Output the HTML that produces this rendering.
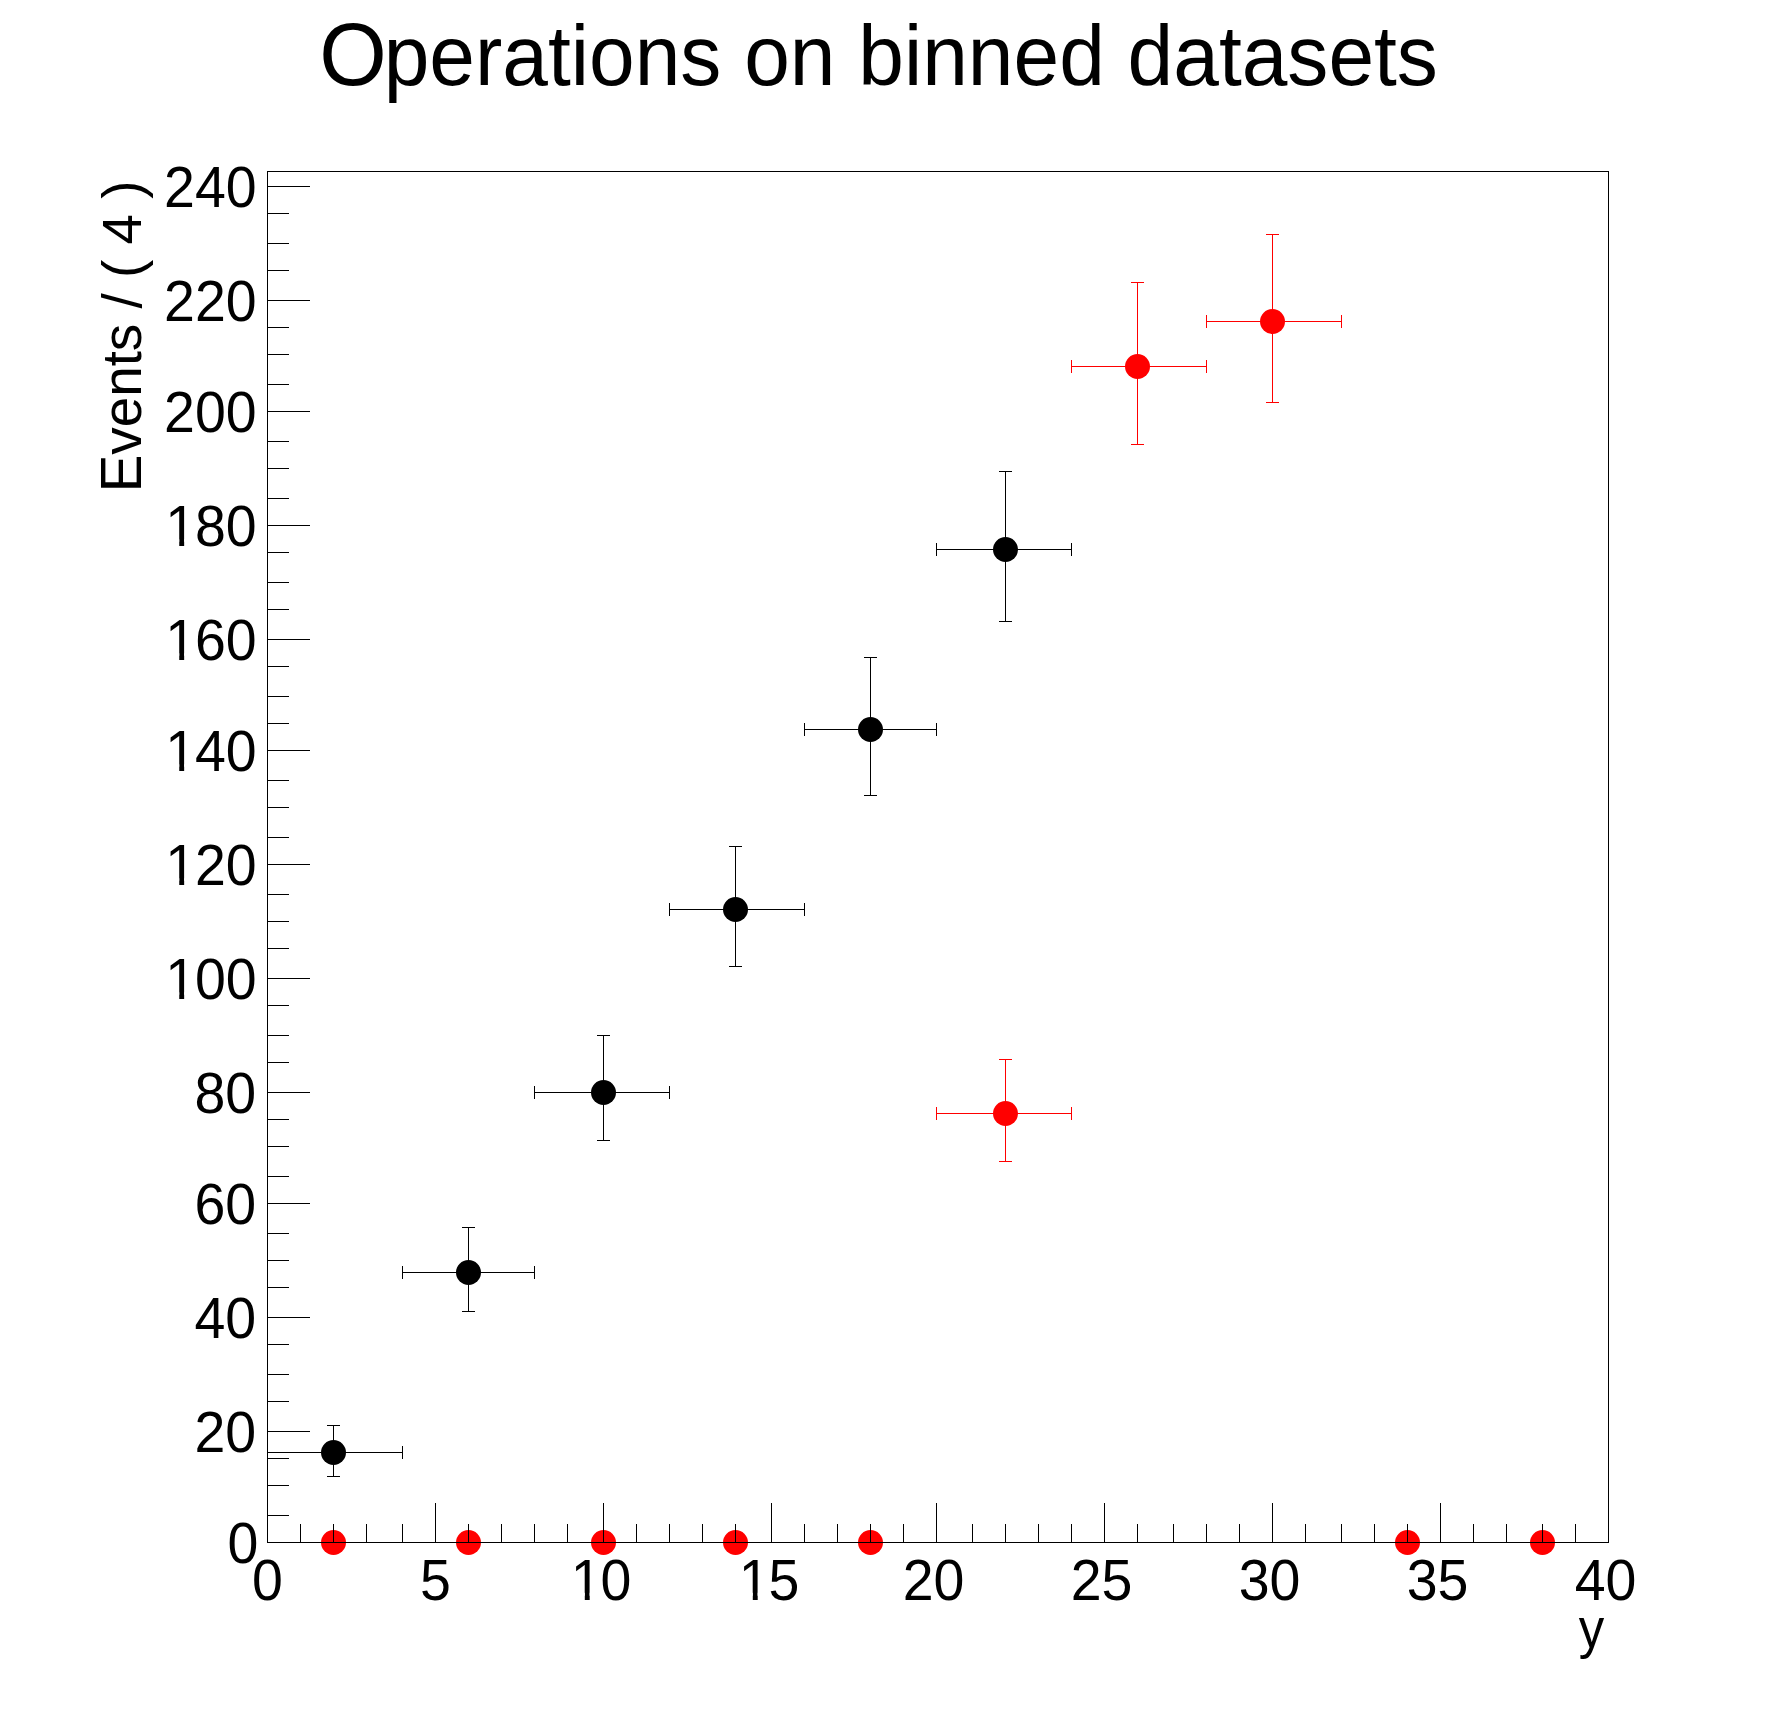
<!DOCTYPE html>
<html lang="en"><head><meta charset="utf-8"><title>Operations on binned datasets</title>
<style>
html,body{margin:0;padding:0;background:#fff;}
body{width:1788px;height:1716px;overflow:hidden;}
svg{display:block;}
text{font-family:"Liberation Sans",sans-serif;fill:#000;}
</style></head><body>
<svg width="1788" height="1716" viewBox="0 0 1788 1716">
<rect x="0" y="0" width="1788" height="1716" fill="#fff"/>
<g shape-rendering="crispEdges">
<rect x="333" y="1425" width="1" height="52" fill="#000"/>
<rect x="327" y="1425" width="13" height="1" fill="#000"/>
<rect x="327" y="1476" width="13" height="1" fill="#000"/>
<rect x="267" y="1452" width="136" height="1" fill="#000"/>
<rect x="267" y="1446" width="1" height="13" fill="#000"/>
<rect x="402" y="1446" width="1" height="13" fill="#000"/>
<rect x="468" y="1227" width="1" height="85" fill="#000"/>
<rect x="462" y="1227" width="13" height="1" fill="#000"/>
<rect x="462" y="1311" width="13" height="1" fill="#000"/>
<rect x="402" y="1272" width="133" height="1" fill="#000"/>
<rect x="402" y="1266" width="1" height="13" fill="#000"/>
<rect x="534" y="1266" width="1" height="13" fill="#000"/>
<rect x="603" y="1035" width="1" height="106" fill="#000"/>
<rect x="597" y="1035" width="13" height="1" fill="#000"/>
<rect x="597" y="1140" width="13" height="1" fill="#000"/>
<rect x="534" y="1092" width="136" height="1" fill="#000"/>
<rect x="534" y="1086" width="1" height="13" fill="#000"/>
<rect x="669" y="1086" width="1" height="13" fill="#000"/>
<rect x="735" y="846" width="1" height="121" fill="#000"/>
<rect x="729" y="846" width="13" height="1" fill="#000"/>
<rect x="729" y="966" width="13" height="1" fill="#000"/>
<rect x="669" y="909" width="136" height="1" fill="#000"/>
<rect x="669" y="903" width="1" height="13" fill="#000"/>
<rect x="804" y="903" width="1" height="13" fill="#000"/>
<rect x="870" y="657" width="1" height="139" fill="#000"/>
<rect x="864" y="657" width="13" height="1" fill="#000"/>
<rect x="864" y="795" width="13" height="1" fill="#000"/>
<rect x="804" y="729" width="133" height="1" fill="#000"/>
<rect x="804" y="723" width="1" height="13" fill="#000"/>
<rect x="936" y="723" width="1" height="13" fill="#000"/>
<rect x="1005" y="471" width="1" height="151" fill="#000"/>
<rect x="999" y="471" width="13" height="1" fill="#000"/>
<rect x="999" y="621" width="13" height="1" fill="#000"/>
<rect x="936" y="549" width="136" height="1" fill="#000"/>
<rect x="936" y="543" width="1" height="13" fill="#000"/>
<rect x="1071" y="543" width="1" height="13" fill="#000"/>
<rect x="1005" y="1059" width="1" height="103" fill="#f00"/>
<rect x="999" y="1059" width="13" height="1" fill="#f00"/>
<rect x="999" y="1161" width="13" height="1" fill="#f00"/>
<rect x="936" y="1113" width="136" height="1" fill="#f00"/>
<rect x="936" y="1107" width="1" height="13" fill="#f00"/>
<rect x="1071" y="1107" width="1" height="13" fill="#f00"/>
<rect x="1137" y="282" width="1" height="163" fill="#f00"/>
<rect x="1131" y="282" width="13" height="1" fill="#f00"/>
<rect x="1131" y="444" width="13" height="1" fill="#f00"/>
<rect x="1071" y="366" width="136" height="1" fill="#f00"/>
<rect x="1071" y="360" width="1" height="13" fill="#f00"/>
<rect x="1206" y="360" width="1" height="13" fill="#f00"/>
<rect x="1272" y="234" width="1" height="169" fill="#f00"/>
<rect x="1266" y="234" width="13" height="1" fill="#f00"/>
<rect x="1266" y="402" width="13" height="1" fill="#f00"/>
<rect x="1206" y="321" width="136" height="1" fill="#f00"/>
<rect x="1206" y="315" width="1" height="13" fill="#f00"/>
<rect x="1341" y="315" width="1" height="13" fill="#f00"/>
</g>
<g>
<circle cx="333.5" cy="1452.5" r="12.5" fill="#000"/>
<circle cx="468.5" cy="1272.5" r="12.5" fill="#000"/>
<circle cx="603.5" cy="1092.5" r="12.5" fill="#000"/>
<circle cx="735.5" cy="909.5" r="12.5" fill="#000"/>
<circle cx="870.5" cy="729.5" r="12.5" fill="#000"/>
<circle cx="1005.5" cy="549.5" r="12.5" fill="#000"/>
<circle cx="333.5" cy="1542.5" r="12.5" fill="#f00"/>
<circle cx="468.5" cy="1542.5" r="12.5" fill="#f00"/>
<circle cx="603.5" cy="1542.5" r="12.5" fill="#f00"/>
<circle cx="735.5" cy="1542.5" r="12.5" fill="#f00"/>
<circle cx="870.5" cy="1542.5" r="12.5" fill="#f00"/>
<circle cx="1005.5" cy="1113.5" r="12.5" fill="#f00"/>
<circle cx="1137.5" cy="366.5" r="12.5" fill="#f00"/>
<circle cx="1272.5" cy="321.5" r="12.5" fill="#f00"/>
<circle cx="1407.5" cy="1542.5" r="12.5" fill="#f00"/>
<circle cx="1542.5" cy="1542.5" r="12.5" fill="#f00"/>
</g>
<g shape-rendering="crispEdges">
<rect x="267" y="171" width="1342" height="1" fill="#000"/>
<rect x="267" y="1542" width="1342" height="1" fill="#000"/>
<rect x="267" y="171" width="1" height="1372" fill="#000"/>
<rect x="1608" y="171" width="1" height="1372" fill="#000"/>
<rect x="267" y="1503" width="1" height="40" fill="#000"/>
<rect x="300" y="1524" width="1" height="19" fill="#000"/>
<rect x="333" y="1524" width="1" height="19" fill="#000"/>
<rect x="366" y="1524" width="1" height="19" fill="#000"/>
<rect x="402" y="1524" width="1" height="19" fill="#000"/>
<rect x="435" y="1503" width="1" height="40" fill="#000"/>
<rect x="468" y="1524" width="1" height="19" fill="#000"/>
<rect x="501" y="1524" width="1" height="19" fill="#000"/>
<rect x="534" y="1524" width="1" height="19" fill="#000"/>
<rect x="567" y="1524" width="1" height="19" fill="#000"/>
<rect x="603" y="1503" width="1" height="40" fill="#000"/>
<rect x="636" y="1524" width="1" height="19" fill="#000"/>
<rect x="669" y="1524" width="1" height="19" fill="#000"/>
<rect x="702" y="1524" width="1" height="19" fill="#000"/>
<rect x="735" y="1524" width="1" height="19" fill="#000"/>
<rect x="771" y="1503" width="1" height="40" fill="#000"/>
<rect x="804" y="1524" width="1" height="19" fill="#000"/>
<rect x="837" y="1524" width="1" height="19" fill="#000"/>
<rect x="870" y="1524" width="1" height="19" fill="#000"/>
<rect x="903" y="1524" width="1" height="19" fill="#000"/>
<rect x="936" y="1503" width="1" height="40" fill="#000"/>
<rect x="972" y="1524" width="1" height="19" fill="#000"/>
<rect x="1005" y="1524" width="1" height="19" fill="#000"/>
<rect x="1038" y="1524" width="1" height="19" fill="#000"/>
<rect x="1071" y="1524" width="1" height="19" fill="#000"/>
<rect x="1104" y="1503" width="1" height="40" fill="#000"/>
<rect x="1137" y="1524" width="1" height="19" fill="#000"/>
<rect x="1173" y="1524" width="1" height="19" fill="#000"/>
<rect x="1206" y="1524" width="1" height="19" fill="#000"/>
<rect x="1239" y="1524" width="1" height="19" fill="#000"/>
<rect x="1272" y="1503" width="1" height="40" fill="#000"/>
<rect x="1305" y="1524" width="1" height="19" fill="#000"/>
<rect x="1341" y="1524" width="1" height="19" fill="#000"/>
<rect x="1374" y="1524" width="1" height="19" fill="#000"/>
<rect x="1407" y="1524" width="1" height="19" fill="#000"/>
<rect x="1440" y="1503" width="1" height="40" fill="#000"/>
<rect x="1473" y="1524" width="1" height="19" fill="#000"/>
<rect x="1506" y="1524" width="1" height="19" fill="#000"/>
<rect x="1542" y="1524" width="1" height="19" fill="#000"/>
<rect x="1575" y="1524" width="1" height="19" fill="#000"/>
<rect x="1608" y="1503" width="1" height="40" fill="#000"/>
<rect x="267" y="1542" width="43" height="1" fill="#000"/>
<rect x="267" y="1515" width="22" height="1" fill="#000"/>
<rect x="267" y="1485" width="22" height="1" fill="#000"/>
<rect x="267" y="1458" width="22" height="1" fill="#000"/>
<rect x="267" y="1431" width="43" height="1" fill="#000"/>
<rect x="267" y="1401" width="22" height="1" fill="#000"/>
<rect x="267" y="1374" width="22" height="1" fill="#000"/>
<rect x="267" y="1344" width="22" height="1" fill="#000"/>
<rect x="267" y="1317" width="43" height="1" fill="#000"/>
<rect x="267" y="1287" width="22" height="1" fill="#000"/>
<rect x="267" y="1260" width="22" height="1" fill="#000"/>
<rect x="267" y="1233" width="22" height="1" fill="#000"/>
<rect x="267" y="1203" width="43" height="1" fill="#000"/>
<rect x="267" y="1176" width="22" height="1" fill="#000"/>
<rect x="267" y="1146" width="22" height="1" fill="#000"/>
<rect x="267" y="1119" width="22" height="1" fill="#000"/>
<rect x="267" y="1092" width="43" height="1" fill="#000"/>
<rect x="267" y="1062" width="22" height="1" fill="#000"/>
<rect x="267" y="1035" width="22" height="1" fill="#000"/>
<rect x="267" y="1005" width="22" height="1" fill="#000"/>
<rect x="267" y="978" width="43" height="1" fill="#000"/>
<rect x="267" y="948" width="22" height="1" fill="#000"/>
<rect x="267" y="921" width="22" height="1" fill="#000"/>
<rect x="267" y="894" width="22" height="1" fill="#000"/>
<rect x="267" y="864" width="43" height="1" fill="#000"/>
<rect x="267" y="837" width="22" height="1" fill="#000"/>
<rect x="267" y="807" width="22" height="1" fill="#000"/>
<rect x="267" y="780" width="22" height="1" fill="#000"/>
<rect x="267" y="750" width="43" height="1" fill="#000"/>
<rect x="267" y="723" width="22" height="1" fill="#000"/>
<rect x="267" y="696" width="22" height="1" fill="#000"/>
<rect x="267" y="666" width="22" height="1" fill="#000"/>
<rect x="267" y="639" width="43" height="1" fill="#000"/>
<rect x="267" y="609" width="22" height="1" fill="#000"/>
<rect x="267" y="582" width="22" height="1" fill="#000"/>
<rect x="267" y="552" width="22" height="1" fill="#000"/>
<rect x="267" y="525" width="43" height="1" fill="#000"/>
<rect x="267" y="498" width="22" height="1" fill="#000"/>
<rect x="267" y="468" width="22" height="1" fill="#000"/>
<rect x="267" y="441" width="22" height="1" fill="#000"/>
<rect x="267" y="411" width="43" height="1" fill="#000"/>
<rect x="267" y="384" width="22" height="1" fill="#000"/>
<rect x="267" y="354" width="22" height="1" fill="#000"/>
<rect x="267" y="327" width="22" height="1" fill="#000"/>
<rect x="267" y="300" width="43" height="1" fill="#000"/>
<rect x="267" y="270" width="22" height="1" fill="#000"/>
<rect x="267" y="243" width="22" height="1" fill="#000"/>
<rect x="267" y="213" width="22" height="1" fill="#000"/>
<rect x="267" y="186" width="43" height="1" fill="#000"/>
</g>
<g>
<text transform="translate(252.07,1599.50) scale(0.982,1)" text-anchor="start" font-size="56.5">0</text>
<text transform="translate(420.07,1599.50) scale(0.982,1)" text-anchor="start" font-size="56.5">5</text>
<g transform="translate(570.84,1599.50) scale(0.982,1)"><text text-anchor="start" font-size="56.5"><tspan>1</tspan><tspan dx="-1.22">0</tspan></text><rect x="2.80" y="-6.72" width="11.40" height="8.22" fill="#fff"/><rect x="19.20" y="-6.72" width="10.96" height="8.22" fill="#fff"/></g>
<g transform="translate(738.84,1599.50) scale(0.982,1)"><text text-anchor="start" font-size="56.5"><tspan>1</tspan><tspan dx="-1.22">5</tspan></text><rect x="2.80" y="-6.72" width="11.40" height="8.22" fill="#fff"/><rect x="19.20" y="-6.72" width="10.96" height="8.22" fill="#fff"/></g>
<text transform="translate(902.64,1599.50) scale(0.982,1)" text-anchor="start" font-size="56.5">20</text>
<text transform="translate(1070.64,1599.50) scale(0.982,1)" text-anchor="start" font-size="56.5">25</text>
<text transform="translate(1238.64,1599.50) scale(0.982,1)" text-anchor="start" font-size="56.5">30</text>
<text transform="translate(1406.64,1599.50) scale(0.982,1)" text-anchor="start" font-size="56.5">35</text>
<text transform="translate(1574.64,1599.50) scale(0.982,1)" text-anchor="start" font-size="56.5">40</text>
<text transform="translate(227.51,1563.00) scale(0.982,1)" text-anchor="start" font-size="56.5">0</text>
<text transform="translate(194.45,1452.00) scale(0.982,1)" text-anchor="start" font-size="56.5">20</text>
<text transform="translate(194.45,1338.00) scale(0.982,1)" text-anchor="start" font-size="56.5">40</text>
<text transform="translate(194.45,1224.00) scale(0.982,1)" text-anchor="start" font-size="56.5">60</text>
<text transform="translate(194.45,1113.00) scale(0.982,1)" text-anchor="start" font-size="56.5">80</text>
<g transform="translate(165.30,999.00) scale(0.982,1)"><text text-anchor="start" font-size="56.5"><tspan>1</tspan><tspan dx="-1.22">00</tspan></text><rect x="2.80" y="-6.72" width="11.40" height="8.22" fill="#fff"/><rect x="19.20" y="-6.72" width="10.96" height="8.22" fill="#fff"/></g>
<g transform="translate(165.30,885.00) scale(0.982,1)"><text text-anchor="start" font-size="56.5"><tspan>1</tspan><tspan dx="-1.22">20</tspan></text><rect x="2.80" y="-6.72" width="11.40" height="8.22" fill="#fff"/><rect x="19.20" y="-6.72" width="10.96" height="8.22" fill="#fff"/></g>
<g transform="translate(165.30,771.00) scale(0.982,1)"><text text-anchor="start" font-size="56.5"><tspan>1</tspan><tspan dx="-1.22">40</tspan></text><rect x="2.80" y="-6.72" width="11.40" height="8.22" fill="#fff"/><rect x="19.20" y="-6.72" width="10.96" height="8.22" fill="#fff"/></g>
<g transform="translate(165.30,660.00) scale(0.982,1)"><text text-anchor="start" font-size="56.5"><tspan>1</tspan><tspan dx="-1.22">60</tspan></text><rect x="2.80" y="-6.72" width="11.40" height="8.22" fill="#fff"/><rect x="19.20" y="-6.72" width="10.96" height="8.22" fill="#fff"/></g>
<g transform="translate(165.30,546.00) scale(0.982,1)"><text text-anchor="start" font-size="56.5"><tspan>1</tspan><tspan dx="-1.22">80</tspan></text><rect x="2.80" y="-6.72" width="11.40" height="8.22" fill="#fff"/><rect x="19.20" y="-6.72" width="10.96" height="8.22" fill="#fff"/></g>
<text transform="translate(164.10,432.00) scale(0.982,1)" text-anchor="start" font-size="56.5">200</text>
<text transform="translate(164.10,321.00) scale(0.982,1)" text-anchor="start" font-size="56.5">220</text>
<text transform="translate(164.10,207.00) scale(0.982,1)" text-anchor="start" font-size="56.5">240</text>
<text transform="translate(1591.50,1647.40) scale(0.905,1)" text-anchor="middle" font-size="56.3">y</text>
<text transform="translate(141.20,492.36) rotate(-90) scale(0.979,1)" text-anchor="start" font-size="56"><tspan font-size="57.6">E</tspan><tspan>vents / ( 4 )</tspan></text>
<text transform="translate(319.29,85.20) scale(0.9715,1)" text-anchor="start" font-size="84.5"><tspan font-size="89.35">O</tspan><tspan dx="-3.2">perations on binned datasets</tspan></text>
</g>
</svg>
</body></html>
